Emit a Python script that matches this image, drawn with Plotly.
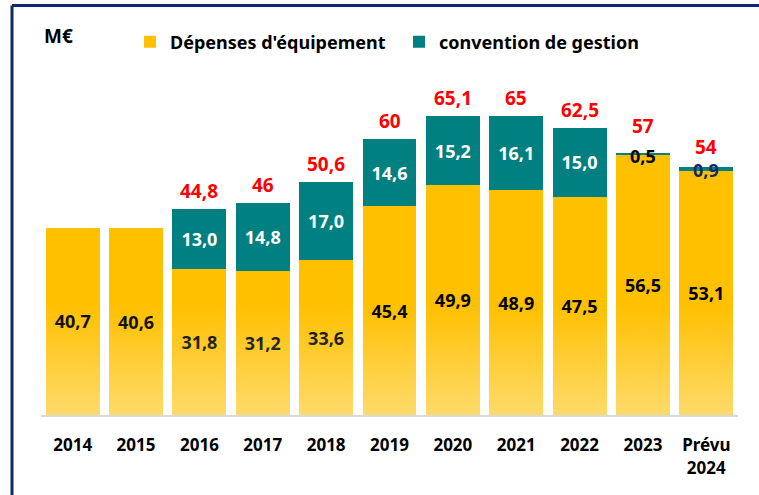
import base64
import plotly.graph_objects as go

years = ["2014", "2015", "2016", "2017", "2018", "2019", "2020", "2021", "2022", "2023", "Prévu<br>2024"]
equipement = [40.7, 40.6, 31.8, 31.2, 33.6, 45.4, 49.9, 48.9, 47.5, 56.5, 53.1]
convention = [None, None, 13.0, 14.8, 17.0, 14.6, 15.2, 16.1, 15.0, 0.5, 0.9]
totaux = [None, None, 44.8, 46, 50.6, 60, 65.1, 65, 62.5, 57, 54]

FONT = "Noto Sans"
W, H = 759, 495
ML, MR, MT, MB = 41, 21, 47, 80
YMAX = 80


def fr(v):
    return f"{v:.1f}".replace(".", ",")


def fr_total(v):
    return f"{v:g}".replace(".", ",")


eq_text = [fr(v) for v in equipement]
conv_text = [fr(v) if (v is not None and v >= 5) else "" for v in convention]

fig = go.Figure()
fig.add_trace(go.Bar(
    x=years, y=equipement, name="Dépenses d'équipement",
    marker=dict(color="#FFC000", line=dict(width=0)),
    text=eq_text, textposition="inside", insidetextanchor="middle",
    textfont=dict(family=FONT, size=18, color="black", weight="bold"),
    textangle=0,
))
fig.add_trace(go.Bar(
    x=years, y=convention, name="convention de gestion",
    marker=dict(color="#008080", line=dict(width=0)),
    text=conv_text, textposition="inside", insidetextanchor="middle",
    textfont=dict(family=FONT, size=18, color="white", weight="bold"),
    textangle=0,
))

annotations = []
small_colors = {9: "black", 10: "#0F2A6B"}
for i, c in enumerate(convention):
    if c is not None and c < 5:
        annotations.append(dict(
            x=i, y=equipement[i] + c, xref="x", yref="y",
            text=fr(c), showarrow=False, yanchor="middle", yshift=-3,
            font=dict(family=FONT, size=18, color=small_colors.get(i, "black"), weight="bold"),
        ))
total_shift = {9: 12, 10: 5}
for i, t in enumerate(totaux):
    if t is None:
        continue
    annotations.append(dict(
        x=i, y=t, xref="x", yref="y",
        text=fr_total(t), showarrow=False, yanchor="bottom",
        yshift=total_shift.get(i, 3),
        font=dict(family=FONT, size=19, color="#FF0000", weight="bold"),
    ))

pw = W - ML - MR
ph = H - MT - MB
annotations.append(dict(
    x=(42 - ML) / pw, y=(H - MB - 36) / ph,
    xref="paper", yref="paper", text="M€", showarrow=False,
    xanchor="left", yanchor="middle",
    font=dict(family=FONT, size=19, color="black", weight="bold"),
))

bx = (12 - ML) / pw
by_top = (H - MB - 5.5) / ph
by_bot = (H - MB - H) / ph
shapes = [
    dict(type="line", xref="paper", yref="paper", x0=bx, x1=(W - ML + 5) / pw, y0=by_top, y1=by_top,
         line=dict(color="#0F2A6B", width=3)),
    dict(type="line", xref="paper", yref="paper", x0=bx, x1=bx, y0=by_top, y1=by_bot,
         line=dict(color="#0F2A6B", width=3)),
]

# soft light fade toward the base of the bars (decoration)
svg = (
    '<svg xmlns="http://www.w3.org/2000/svg" width="10" height="100" preserveAspectRatio="none">'
    '<defs><linearGradient id="g" x1="0" y1="0" x2="0" y2="1">'
    '<stop offset="0" stop-color="white" stop-opacity="0"/>'
    '<stop offset="1" stop-color="white" stop-opacity="0.42"/>'
    '</linearGradient></defs><rect width="10" height="100" fill="url(#g)"/></svg>'
)
src = "data:image/svg+xml;base64," + base64.b64encode(svg.encode()).decode()
FADE = 24
images = [dict(
    source=src, xref="paper", yref="y", x=0, y=FADE, sizex=1, sizey=FADE,
    sizing="stretch", xanchor="left", yanchor="top", layer="above", opacity=1,
)]

fig.update_layout(
    width=W, height=H,
    margin=dict(l=ML, r=MR, t=MT, b=MB, pad=0, autoexpand=False),
    barmode="stack", bargap=0.15,
    paper_bgcolor="white", plot_bgcolor="white",
    font=dict(family=FONT, color="black"),
    showlegend=True,
    legend=dict(
        orientation="h", x=(130 - ML) / pw, y=(H - MB - 42) / ph,
        xanchor="left", yanchor="middle",
        font=dict(family=FONT, size=18, color="black", weight="bold"),
        traceorder="normal", bgcolor="rgba(0,0,0,0)",
        entrywidth=224, entrywidthmode="pixels",
    ),
    annotations=annotations,
    shapes=shapes,
    images=images,
    xaxis=dict(
        type="category", range=[-0.5, len(years) - 0.5],
        showline=True, linecolor="#D9D9D9", linewidth=2,
        showgrid=False, ticks="", ticklabelstandoff=14,
        tickfont=dict(family=FONT, size=17, color="black", weight="bold"),
    ),
    yaxis=dict(range=[0, YMAX], visible=False, showgrid=False),
)

fig.write_html(
    "out.html",
    config={"displayModeBar": False},
    post_script="document.body.style.margin='0';document.body.style.overflow='hidden';",
)
